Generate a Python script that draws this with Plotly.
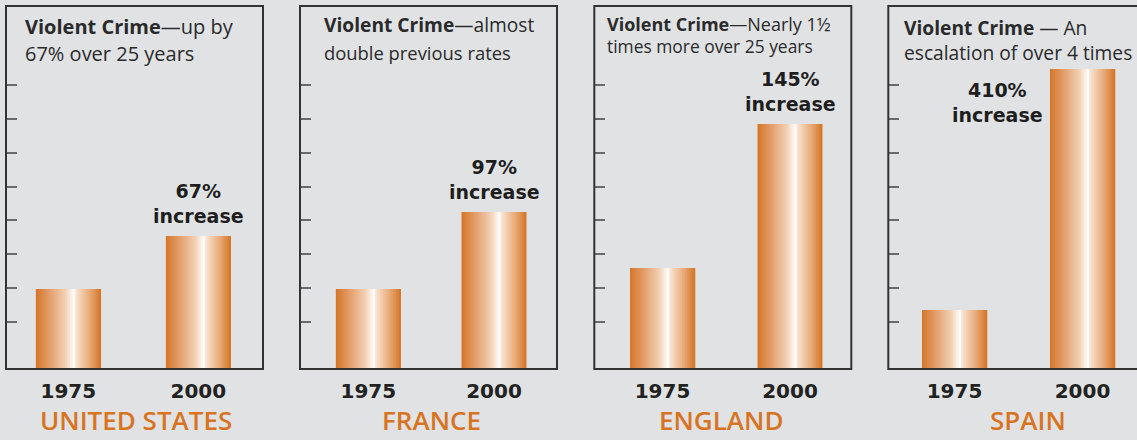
import plotly.graph_objects as go

# ---------------- data ----------------
years = ["1975", "2000"]
countries = ["UNITED STATES", "FRANCE", "ENGLAND", "SPAIN"]
us_values = [8.0, 13.3]
france_values = [8.0, 15.7]
england_values = [10.1, 24.5]
spain_values = [5.9, 30.0]
header_line1 = [
    ("Violent Crime", "\u2014up by"),
    ("Violent Crime", "\u2014almost"),
    ("Violent Crime", "\u2014Nearly 1\u00bd"),
    ("Violent Crime", " \u2014 An"),
]
header_line2 = [
    "67% over 25 years",
    "double previous rates",
    "times more over 25 years",
    "escalation of over 4 times",
]
increase_labels = ["67%<br>increase", "97%<br>increase", "145%<br>increase", "410%<br>increase"]
y_tick_vals = [4.73, 8.11, 11.49, 14.87, 18.25, 21.63, 25.01, 28.39]

all_values = [us_values, france_values, england_values, spain_values]

# ---------------- layout params (pixels) ----------------
W, H = 1137, 440
BG = "#e1e2e4"
ORANGE = "#d8741f"
panel_left = [6, 300, 594.3, 888.3]
panel_w = 257
bar_centers = [(62.35, 192.35), (68.35, 194.0), (68.2, 195.7), (66.2, 194.2)]
bar_px = 65
plot_top, plot_bottom = 6, 369
y_max = 36.3

# left x, cap centre line1, cap centre line2, size1, size2, combined?
header_pos = [
    (23.3, 26.2, 53.6, 20, 20, False),
    (321.7, 24.0, 52.3, 19.2, 18.4, False),
    (605.0, 24.4, 46.3, 18, 17.4, False),
    (901.7, 28.7, 51.3, 19.2, 19.2, True),
]
country_cx = [136, 431, 721, 1028]

# gradient stops for bars
stops = [
    (0.00, (213, 118, 40)),
    (0.20, (226, 155, 103)),
    (0.45, (242, 208, 180)),
    (0.56, (253, 245, 238)),
    (0.585, (255, 255, 255)),
    (0.62, (248, 226, 208)),
    (0.82, (233, 172, 122)),
    (1.00, (212, 117, 38)),
]


def grad(t):
    for (t0, c0), (t1, c1) in zip(stops[:-1], stops[1:]):
        if t0 <= t <= t1:
            f = (t - t0) / (t1 - t0) if t1 > t0 else 0
            c = [round(a + (b - a) * f) for a, b in zip(c0, c1)]
            return "rgb(%d,%d,%d)" % tuple(c)
    return "rgb(%d,%d,%d)" % stops[-1][1]


N = 40
fig = go.Figure()
layout = dict(
    width=W, height=H,
    margin=dict(l=0, r=0, t=0, b=0),
    paper_bgcolor=BG, plot_bgcolor=BG,
    barmode="overlay", showlegend=False,
)
annotations = []
shapes = []
ydom = [1 - plot_bottom / H, 1 - plot_top / H]

for p in range(4):
    k = "" if p == 0 else str(p + 1)
    left = panel_left[p]
    dom_right = min(left + panel_w, W)
    c1, c2 = bar_centers[p]
    unit = c2 - c1
    r0 = -c1 / unit
    r1 = r0 + (dom_right - left) / unit
    bw = bar_px / unit
    step = bw / N
    vals = all_values[p]
    for i in range(N):
        t = (i + 0.5) / N
        fig.add_trace(go.Bar(
            x=years, y=vals, xaxis="x" + k, yaxis="y" + k,
            offset=-bw / 2 + i * step,
            width=step * (1.6 if i < N - 1 else 1.0),
            marker=dict(color=grad(t), line=dict(width=0)),
            hoverinfo="skip", showlegend=False,
        ))
    layout["xaxis" + k] = dict(
        domain=[left / W, dom_right / W], range=[r0, r1],
        type="category", showgrid=False, zeroline=False, showline=False,
        ticks="", tickfont=dict(family="DejaVu Sans", size=20, color="#222222", weight="bold"),
        ticklabelstandoff=8, anchor="y" + k, fixedrange=True,
    )
    layout["yaxis" + k] = dict(
        domain=ydom, range=[0, y_max], showgrid=False, zeroline=False,
        showline=False, showticklabels=False, tickmode="array", tickvals=y_tick_vals,
        ticks="inside", ticklen=11, tickwidth=2, tickcolor="#6a6a6a",
        anchor="x" + k, fixedrange=True,
    )
    # panel box
    shapes.append(dict(
        type="rect", xref="paper", yref="paper",
        x0=left / W, x1=(left + panel_w) / W, y0=ydom[0], y1=ydom[1],
        line=dict(color="#333333", width=2), fillcolor="rgba(0,0,0,0)", layer="above",
    ))
    # headers
    hx, hy1, hy2, s1, s2, combined = header_pos[p]
    b, r = header_line1[p]
    if combined:
        annotations.append(dict(
            xref="paper", yref="paper", x=hx / W, y=1 - (hy1 + hy2) / 2 / H,
            xanchor="left", yanchor="middle", align="left",
            text="<b>%s</b>%s<br>%s" % (b, r, header_line2[p]), showarrow=False,
            font=dict(family="Open Sans", size=s1, color="#2a2a2a"),
        ))
    else:
        annotations.append(dict(
            xref="paper", yref="paper", x=hx / W, y=1 - hy1 / H, xanchor="left", yanchor="middle",
            text="<b>%s</b>%s" % (b, r), showarrow=False,
            font=dict(family="Open Sans", size=s1, color="#2a2a2a"),
        ))
        annotations.append(dict(
            xref="paper", yref="paper", x=hx / W, y=1 - hy2 / H, xanchor="left", yanchor="middle",
            text=header_line2[p], showarrow=False,
            font=dict(family="Open Sans", size=s2, color="#2a2a2a"),
        ))
    # country
    annotations.append(dict(
        xref="paper", yref="paper", x=country_cx[p] / W, y=0,
        xanchor="center", yanchor="bottom", text=countries[p], showarrow=False,
        font=dict(family="Open Sans", size=26, color=ORANGE, weight=600),
    ))
    # increase label
    if p < 3:
        annotations.append(dict(
            xref="x" + k, yref="y" + k, x=1, y=vals[1], xanchor="center",
            yanchor="bottom", yshift=7, text="<b>%s</b>" % increase_labels[p],
            showarrow=False, font=dict(family="DejaVu Sans", size=19, color="#1e1e1e"),
        ))
    else:
        annotations.append(dict(
            xref="x" + k, yref="y" + k, x=r0 + (997.3 - left) / unit, y=vals[1],
            xanchor="center", yanchor="top", yshift=-8, text="<b>%s</b>" % increase_labels[p],
            showarrow=False, font=dict(family="DejaVu Sans", size=19, color="#1e1e1e"),
        ))

layout["annotations"] = annotations
layout["shapes"] = shapes
fig.update_layout(**layout)
fig.write_html(
    "out.html",
    config={"displayModeBar": False},
    post_script="document.body.style.margin='0';document.body.style.background='%s';" % BG,
)
